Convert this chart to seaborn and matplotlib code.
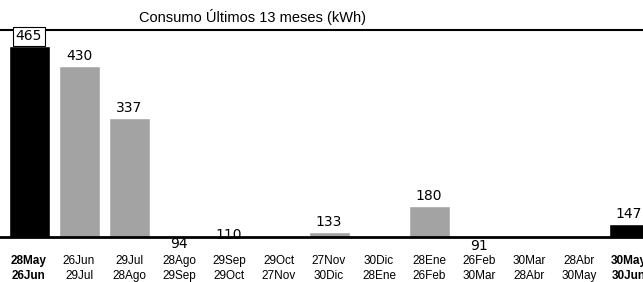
import numpy as np
import pandas as pd
import seaborn as sns
import matplotlib.pyplot as plt

# periods (start / end of each billing month)
desde = ["28May", "26Jun", "29Jul", "28Ago", "29Sep", "29Oct", "27Nov",
         "30Dic", "28Ene", "26Feb", "30Mar", "28Abr", "30May"]
hasta = ["26Jun", "29Jul", "28Ago", "29Sep", "29Oct", "27Nov", "30Dic",
         "28Ene", "26Feb", "30Mar", "28Abr", "30May", "30Jun"]
# kWh per period (no reading -> nan)
kwh = [465, 430, 337, 94, 110, np.nan, 133, np.nan, 180, 91, np.nan, np.nan, 147]

periodo = [d + "\n" + h for d, h in zip(desde, hasta)]
df = pd.DataFrame({"periodo": periodo, "kwh": kwh})

# first and last period highlighted in black
colores = {p: "#a3a3a3" for p in periodo}
colores[periodo[0]] = "black"
colores[periodo[-1]] = "black"

sns.set_style("white")
plt.rcParams["font.family"] = ["Liberation Sans", "DejaVu Sans"]
plt.rcParams["text.color"] = "black"
plt.rcParams["xtick.color"] = "black"

fig = plt.figure(figsize=(6.43, 2.82), dpi=100)
ax = fig.add_axes([0.0, 1 - 237 / 282, 1.0, 207 / 282])

sns.barplot(data=df, x="periodo", y="kwh", hue="periodo", order=periodo,
            hue_order=periodo, palette=colores, legend=False, width=0.82,
            saturation=1, ax=ax)

ax.set_xlim(-0.58, 12.28)
ax.set_ylim(124, 494)

# value labels
for i, v in enumerate(kwh):
    if np.isnan(v):
        continue
    kw = {}
    if i == 0:
        kw["bbox"] = dict(boxstyle="square,pad=0.2", fc="white", ec="black", lw=0.8)
    ax.annotate(f"{int(v)}", (i, v), xytext=(0, 2), textcoords="offset points",
                ha="center", va="bottom", fontsize=10, family="DejaVu Sans",
                color="black", annotation_clip=False, **kw)

ax.set_xticks(range(len(periodo)))
ax.set_xticklabels(periodo, fontsize=8.5, linespacing=1.3)
for j, t in enumerate(ax.get_xticklabels()):
    if j in (0, len(periodo) - 1):
        t.set_fontweight("bold")
ax.tick_params(axis="x", length=0, pad=13, labelcolor="black")
ax.set_yticks([])
ax.set_xlabel("")
ax.set_ylabel("")

for s in ["left", "right"]:
    ax.spines[s].set_visible(False)
ax.spines["bottom"].set_linewidth(2)
ax.spines["bottom"].set_color("black")
ax.spines["top"].set_linewidth(1.5)
ax.spines["top"].set_color("black")

fig.text(0.393, 0.94, "Consumo Últimos 13 meses (kWh)", ha="center",
         va="center", fontsize=10.5, color="black")

fig.savefig("out.png", dpi=100)
